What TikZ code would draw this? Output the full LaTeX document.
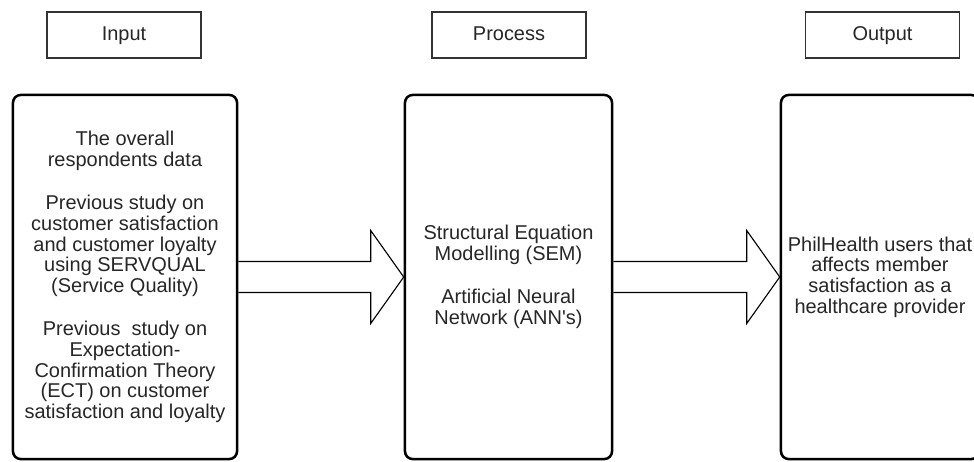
\documentclass[tikz,border=0pt]{standalone}
\usepackage{fontspec}
\setmainfont{Liberation Sans}[Ligatures=TeXOff]
\usepackage{tikz}
\usetikzlibrary{calc}

\tikzset{
    label box/.style={draw=black!80, line width=1pt, minimum width=3.85cm,
        minimum height=1.15cm, text=black!85, text height=10.5pt, text depth=3pt,
        font=\fontsize{14.2pt}{14.7pt}\selectfont},
    stage box/.style={draw, line width=1.8pt, rounded corners=5.5pt,
        minimum height=9.1cm, align=center, text=black!85, inner sep=0pt,
        font=\fontsize{14.2pt}{14.7pt}\selectfont},
    block arrow/.style={draw, line width=0.8pt, line join=miter},
}

\begin{document}
\begin{tikzpicture}[x=0.025cm, y=-0.025cm]
    \useasboundingbox (0, 0) rectangle (974, 461);
    \clip (0, 0) rectangle (974, 461);

    % headings
    \node[label box] (input)   at (124, 35)   {Input};
    \node[label box] (process) at (509, 35)   {Process};
    \node[label box] (output)  at (882.5, 35) {Output};

    % the three stages
    \node[stage box, minimum width=5.6cm] (inbox) at (125, 277)
        {The overall\\respondents data\\[16pt]
         Previous study on\\customer satisfaction\\and customer loyalty\\
         using SERVQUAL\\(Service Quality)\\[16pt]
         Previous\ \ study on\\Expectation-\\Confirmation Theory\\
         (ECT) on customer\\satisfaction and loyalty};
    \node[stage box, minimum width=5.175cm] (procbox) at (508.5, 277)
        {Structural Equation\\Modelling (SEM)\\[16pt]
         Artificial Neural\\Network (ANN's)};
    \node[stage box, minimum width=4.95cm] (outbox) at (880, 277)
        {PhilHealth users that\\affects member\\satisfaction as a\\
         healthcare provider};

    % hollow arrows between the stages
    \foreach \a/\b in {inbox/procbox, procbox/outbox}
        \draw[block arrow] ($(\a.east)+(0,-15.5)$)
            -- ($(\b.west)+(-33,-15.5)$) -- ($(\b.west)+(-33,-46.5)$)
            -- (\b.west)
            -- ($(\b.west)+(-33,46.5)$) -- ($(\b.west)+(-33,15.5)$)
            -- ($(\a.east)+(0,15.5)$);
\end{tikzpicture}
\end{document}
